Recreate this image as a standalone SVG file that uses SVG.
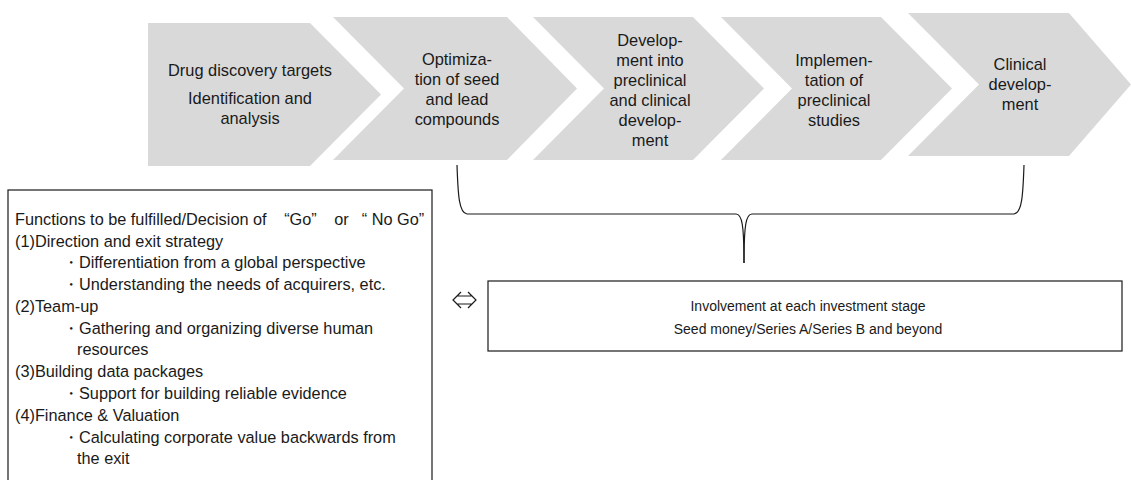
<svg xmlns="http://www.w3.org/2000/svg" width="1131" height="480" viewBox="0 0 1131 480">
  <style>
    .stage { fill: #d9d9d9; stroke: none; }
    .stage-label { font-family: "Liberation Sans", Arial, sans-serif; font-size: 16.4px; fill: #1a1a1a; text-anchor: middle; }
    .box { fill: #ffffff; stroke: #1a1a1a; stroke-width: 1.2; }
    .body { font-family: "Liberation Sans", Arial, sans-serif; font-size: 16.3px; fill: #1a1a1a; }
    .note { font-family: "Liberation Sans", Arial, sans-serif; font-size: 14px; fill: #1a1a1a; text-anchor: middle; }
    .line { fill: none; stroke: #1a1a1a; stroke-width: 1.2; }
  </style>
  <rect width="1131" height="480" fill="#ffffff"/>

  <!-- process chevrons -->
  <g id="stage-targets">
    <polygon class="stage" points="148,23 310,23 381,94.5 310,166 148,166"/>
    <text class="stage-label" x="250" y="76">Drug discovery targets</text>
    <text class="stage-label" x="250" y="104">Identification and</text>
    <text class="stage-label" x="250" y="124">analysis</text>
  </g>
  <g id="stage-optimization">
    <polygon class="stage" points="333,17 507,17 577,88.5 507,160 333,160 404,88.5"/>
    <text class="stage-label" x="457" y="65">Optimiza-</text>
    <text class="stage-label" x="457" y="85">tion of seed</text>
    <text class="stage-label" x="457" y="105">and lead</text>
    <text class="stage-label" x="457" y="125">compounds</text>
  </g>
  <g id="stage-development">
    <polygon class="stage" points="533,17 693,17 764,88.5 693,160 533,160 604,88.5"/>
    <text class="stage-label" x="650" y="46">Develop-</text>
    <text class="stage-label" x="650" y="66">ment into</text>
    <text class="stage-label" x="650" y="86">preclinical</text>
    <text class="stage-label" x="650" y="106">and clinical</text>
    <text class="stage-label" x="650" y="126">develop-</text>
    <text class="stage-label" x="650" y="146">ment</text>
  </g>
  <g id="stage-preclinical">
    <polygon class="stage" points="721,17 881,17 952,88.5 881,160 721,160 792,88.5"/>
    <text class="stage-label" x="834" y="66">Implemen-</text>
    <text class="stage-label" x="834" y="86">tation of</text>
    <text class="stage-label" x="834" y="106">preclinical</text>
    <text class="stage-label" x="834" y="126">studies</text>
  </g>
  <g id="stage-clinical">
    <polygon class="stage" points="908,13 1069,13 1131,84.5 1069,156 908,156 979,84.5"/>
    <text class="stage-label" x="1020" y="70">Clinical</text>
    <text class="stage-label" x="1020" y="90">develop-</text>
    <text class="stage-label" x="1020" y="110">ment</text>
  </g>

  <!-- brace and double arrow -->
  <g id="connectors">
    <path class="line" d="M457,165 C458,195 459,213 467,214 L736,214 C742,214 744,225 744,263"/>
    <path class="line" d="M1024,165 C1023,195 1022,213 1014,214 L752,214 C746,214 744,225 744,263"/>
    <path class="line" d="M461,292 L453,300 L461,308 M468,292 L476,300 L468,308 M457,296 L472,296 M457,304 L472,304"/>
  </g>

  <g id="functions-box">
    <rect class="box" x="8" y="190" width="424" height="300"/>
    <text class="body" x="15" y="225">Functions to be fulfilled/Decision of <tspan dx="13">“</tspan>Go”<tspan dx="13"> or</tspan><tspan dx="13">“</tspan> No Go”</text>
    <text class="body" x="15" y="247">(1)Direction and exit strategy</text>
    <text class="body" x="63" y="268">・Differentiation from a global perspective</text>
    <text class="body" x="63" y="290">・Understanding the needs of acquirers, etc.</text>
    <text class="body" x="15" y="312">(2)Team-up</text>
    <text class="body" x="63" y="334">・Gathering and organizing diverse human</text>
    <text class="body" x="77" y="355">resources</text>
    <text class="body" x="15" y="377">(3)Building data packages</text>
    <text class="body" x="63" y="399">・Support for building reliable evidence</text>
    <text class="body" x="15" y="421">(4)Finance &amp; Valuation</text>
    <text class="body" x="63" y="443">・Calculating corporate value backwards from</text>
    <text class="body" x="77" y="464">the exit</text>
  </g>

  <g id="investment-box">
    <rect class="box" x="488" y="281" width="634" height="70"/>
    <text class="note" x="808" y="311">Involvement at each investment stage</text>
    <text class="note" x="808" y="334">Seed money/Series A/Series B and beyond</text>
  </g>
</svg>
